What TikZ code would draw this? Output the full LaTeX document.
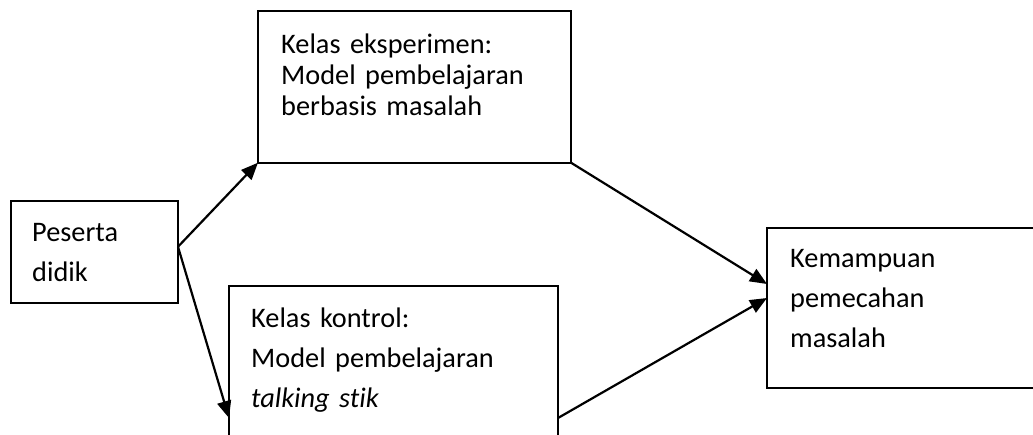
\documentclass[tikz,border=0pt]{standalone}
\usepackage{fontspec}
\setmainfont[Ligatures={NoCommon}]{Carlito}
\usetikzlibrary{arrows.meta,calc}
\begin{document}
\begin{tikzpicture}[x=1pt,y=-1pt,
  box/.style={draw=black, line width=2pt, rectangle, inner sep=0pt, outer sep=0pt, anchor=north west},
  lbl/.style={anchor=base west, inner sep=0pt, align=left, text width=300pt, font=\fontsize{28.3}{40}\selectfont},
  arr/.style={line width=2.2pt, -{Triangle[length=17pt,width=14pt]}}]
\path[use as bounding box] (0,0) rectangle (1033,434);
\begin{scope}
\clip (0,0) rectangle (1033,434);
\node[box, minimum width=167.3pt, minimum height=102.3pt] (pes) at (10.7,200.7) {};
\node[box, minimum width=313pt, minimum height=151.7pt] (exp) at (258,11) {};
\node[box, minimum width=329pt, minimum height=194pt] (ctrl) at (229,286) {};
\node[box, minimum width=278pt, minimum height=160pt] (res) at (767,228) {};

\node[lbl] (pestext) at (32,241) {Peserta\\didik};
\node[lbl, font=\fontsize{28.3}{31}\selectfont] (exptext) at (281,53) {Kelas eksperimen:\\Model pembelajaran\\berbasis masalah};
\node[lbl] (ctrltext) at (251,327) {Kelas kontrol:\\Model pembelajaran\\\textit{talking stik}};
\node[lbl] (restext) at (790,267) {Kemampuan\\pemecahan\\masalah};

\coordinate (pesout) at ($(pes.north east)!0.45!(pes.south east)$);
\coordinate (ctrlin) at ($(ctrl.north west)+(0,132)$);
\coordinate (ctrlout) at ($(ctrl.north east)+(0,132)$);
\coordinate (resin1) at ($(res.north west)+(0,56)$);
\coordinate (resin2) at ($(res.north west)+(0,70)$);

\draw[arr] (pesout) -- (exp.south west);
\draw[arr] (pesout) -- (ctrlin);
\draw[arr] (exp.south east) -- (resin1);
\draw[arr] (ctrlout) -- (resin2);
\end{scope}
\end{tikzpicture}
\end{document}
